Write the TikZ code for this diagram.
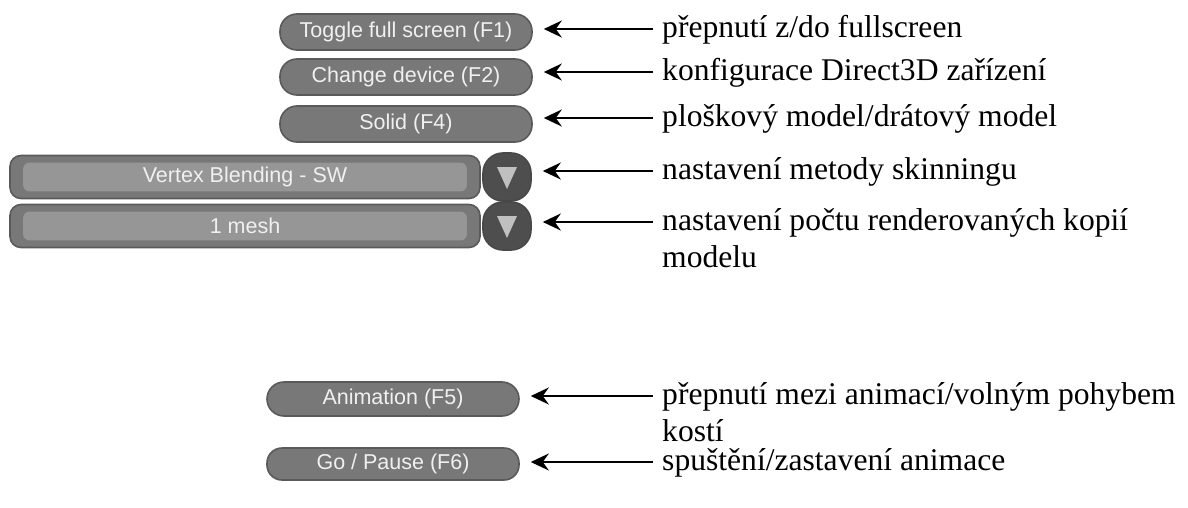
\documentclass[tikz,border=0pt]{standalone}
\usepackage{fontspec}
\setmainfont{Liberation Serif}
\newfontfamily\btnfont{Liberation Sans}
\usetikzlibrary{arrows.meta,calc}
\definecolor{btnfill}{HTML}{787878}
\definecolor{btnedge}{HTML}{5A5A5A}
\definecolor{btninner}{HTML}{969696}
\definecolor{btntext}{HTML}{F0F0F0}
\definecolor{dropfill}{HTML}{4E4E4E}
\definecolor{droptri}{HTML}{C0C0C0}
\tikzset{
  btn/.style={draw=btnedge, line width=1.6pt, fill=btnfill, rounded corners=17pt,
    minimum width=252pt, minimum height=36pt, inner sep=0pt,
    text=btntext, font=\btnfont\fontsize{21.5}{24}\selectfont},
  bar/.style={draw=btnedge, line width=1.6pt, fill=btnfill, rounded corners=11pt,
    minimum width=470pt, minimum height=43pt, inner sep=0pt},
  bartext/.style={text=btntext, font=\btnfont\fontsize{21.5}{24}\selectfont},
  barinner/.style={fill=btninner, rounded corners=6pt},
  drop/.style={draw=btnedge!80!black, line width=1.6pt, fill=dropfill, rounded corners=20pt,
    minimum width=48pt, minimum height=48pt, inner sep=0pt},
  lbl/.style={anchor=west, inner sep=0pt, align=left,
    font=\fontsize{31.6}{37}\selectfont},
  arr/.style={line width=1.8pt, -{Stealth[length=18pt,width=17pt,inset=6pt]}, shorten >=11pt}
}
\begin{document}
\begin{tikzpicture}[x=1pt,y=-1pt]
\useasboundingbox (0,0) rectangle (1188,508);
% buttons
\node[btn] (b1) at (406,32) {Toggle full screen (F1)};
\node[btn] (b2) at (406,77) {Change device (F2)};
\node[btn] (b3) at (406,124) {Solid (F4)};
% combo bars
\node[bar] (b4) at (245,177) {};
\fill[barinner] ($(b4.north west)+(14,8)$) rectangle ($(b4.south east)+(-14,-8)$);
\node[bartext] (t4) at (b4.center) {Vertex Blending - SW};
\node[drop] (d4) at (507,177) {};
\fill[droptri] ($(d4.center)+(-10,-10)$) -- ($(d4.center)+(10,-10)$) -- ($(d4.center)+(0,12)$) -- cycle;
\node[bar] (b5) at (245,226) {};
\fill[barinner] ($(b5.north west)+(14,8)$) rectangle ($(b5.south east)+(-14,-8)$);
\node[bartext] (t5) at (b5.center) {1 mesh};
\node[drop] (d5) at (507,226) {};
\fill[droptri] ($(d5.center)+(-10,-10)$) -- ($(d5.center)+(10,-10)$) -- ($(d5.center)+(0,12)$) -- cycle;
% lower buttons
\node[btn, minimum height=34pt] (b6) at (393,399) {Animation (F5)};
\node[btn, minimum height=32pt, rounded corners=15pt] (b7) at (393,464) {Go / Pause (F6)};
% arrow start points
\coordinate (s1) at (653,29);
\coordinate (s2) at (653,72);
\coordinate (s3) at (653,118);
\coordinate (s4) at (653,171);
\coordinate (s5) at (653,222);
\coordinate (s6) at (653,396);
\coordinate (s7) at (653,462);
% labels
\node[lbl] (l1) at ($(s1)+(9,1)$) {přepnutí z/do fullscreen};
\node[lbl] (l2) at ($(s2)+(9,1)$) {konfigurace Direct3D zařízení};
\node[lbl] (l3) at ($(s3)+(9,1)$) {ploškový model/drátový model};
\node[lbl] (l4) at ($(s4)+(9,1)$) {nastavení metody skinningu};
\node[lbl, anchor=north west] (l5) at ($(s5)+(9,-14)$) {nastavení počtu renderovaných kopií\\modelu};
\node[lbl, anchor=north west] (l6) at ($(s6)+(9,-14)$) {přepnutí mezi animací/volným pohybem\\kostí};
\node[lbl] (l7) at ($(s7)+(9,1)$) {spuštění/zastavení animace};
% arrows
\draw[arr] (s1) -- (s1 -| b1.east);
\draw[arr] (s2) -- (s2 -| b2.east);
\draw[arr] (s3) -- (s3 -| b3.east);
\draw[arr] (s4) -- (s4 -| d4.east);
\draw[arr] (s5) -- (s5 -| d5.east);
\draw[arr] (s6) -- (s6 -| b6.east);
\draw[arr] (s7) -- (s7 -| b7.east);
\end{tikzpicture}
\end{document}
